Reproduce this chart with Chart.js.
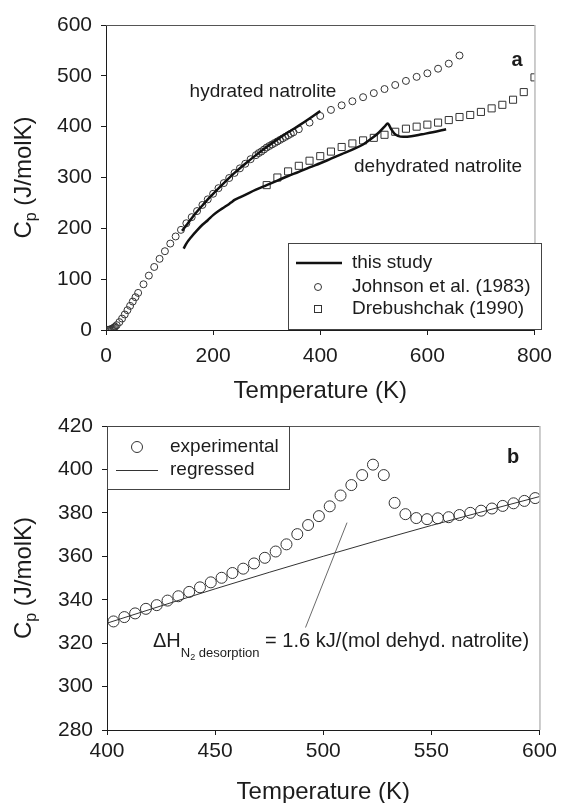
<!DOCTYPE html>
<html>
<head>
<meta charset="utf-8">
<script src="https://cdn.jsdelivr.net/npm/chart.js@4.4.0/dist/chart.umd.min.js"></script>
<style>
  html, body { margin: 0; padding: 0; background: #fff; }
  #wrap { position: relative; width: 561px; height: 803px; overflow: hidden; }
  canvas { position: absolute; left: 0; }
  #chart-a { top: 0; z-index: 1; }
  #chart-b { top: 400px; z-index: 2; }
</style>
</head>
<body>
<div id="wrap">
  <canvas id="chart-a" width="561" height="410"></canvas>
  <canvas id="chart-b" width="561" height="403"></canvas>
</div>
<script>
// ---- panel a data ----
const johnsonT = [3, 5, 7, 9, 11, 13, 15, 17, 20, 25, 30, 35, 40, 45, 50, 55, 60, 70, 80, 90, 100,
  110, 120, 130, 140, 150, 160, 170, 180, 190, 200, 210, 220, 230, 240, 250, 260, 270, 280,
  285, 290, 295, 300, 305, 310, 315, 320, 325, 330, 335, 340, 345, 350, 360, 380, 400,
  420, 440, 460, 480, 500, 520, 540, 560, 580, 600, 620, 640, 660];
const johnsonCp = [0.1, 0.3, 0.7, 1.3, 2.2, 3.3, 4.8, 6.5, 9.5, 15.5, 22.5, 30.5, 39, 47.5, 56, 64.5, 73, 90, 107, 124, 140,
  155, 170, 184, 197, 210, 222, 234, 246, 257, 268, 279, 289, 299, 309, 318, 327, 336, 344,
  348, 351, 355, 359, 362, 365, 368, 371, 374, 377, 380, 383, 386, 389, 395, 408, 421,
  433, 442, 450, 458, 466, 474, 482, 490, 498, 505, 514, 524, 540];

const drebT = [300, 320, 340, 360, 380, 400, 420, 440, 460, 480, 500, 520, 540, 560, 580, 600,
  620, 640, 660, 680, 700, 720, 740, 760, 780, 800];
const drebCp = [285, 300, 312, 323, 333, 342, 351, 360, 367, 373, 378, 384, 390, 396, 400, 404,
  408, 413, 419, 423, 429, 436, 443, 453, 468, 497];

const hydT = [142, 150, 160, 170, 180, 190, 200, 220, 240, 260, 280, 300, 320, 340, 360, 380, 400];
const hydCp = [195, 206, 220, 233, 245, 257, 268, 289, 309, 327, 344, 360, 375, 389, 402, 416, 431];

const dehT = [145, 150, 160, 170, 180, 190, 200, 210, 220, 230, 235, 240, 250, 260, 280, 300, 320,
  340, 360, 380, 400, 420, 440, 460, 480, 500, 510, 520, 526, 532, 538, 545, 555, 570, 590, 610, 635];
const dehCp = [160, 170, 184, 196, 207, 216, 226, 234, 241, 248, 252, 256, 261, 266, 276, 285, 294,
  303, 311, 320, 328, 337, 346, 355, 365, 380, 389, 400, 406, 396, 387, 382, 380, 381, 385, 389, 395];

// ---- panel b data ----
const expT = [403, 408, 413, 418, 423, 428, 433, 438, 443, 448, 453, 458, 463, 468, 473, 478,
  483, 488, 493, 498, 503, 508, 513, 518, 523, 528, 533, 538, 543, 548, 553, 558, 563, 568,
  573, 578, 583, 588, 593, 598];
const expCp = [330.0, 332.0, 333.7, 335.8, 337.5, 339.6, 341.6, 343.6, 345.7, 348.0, 350.1, 352.3,
  354.3, 356.7, 359.3, 362.2, 365.5, 370.2, 374.4, 378.5, 383.0, 388.0, 392.8, 397.4, 402.2,
  397.4, 384.6, 379.4, 377.6, 377.1, 377.5, 378.0, 379.0, 380.0, 381.0, 382.0, 383.2, 384.4,
  385.5, 386.8];

const regT = [400, 450, 500, 550, 600];
const regCp = [329.2, 345.0, 360.0, 374.2, 387.5];

const leaderT = [491.8, 511];
const leaderCp = [327.2, 375.5];

// ---- helpers ----
const FONT = "'Liberation Sans', Arial, Helvetica, sans-serif";
const INK = '#1c1c1c';

function pts(xs, ys) {
  return xs.map((x, i) => ({ x: x, y: ys[i] }));
}

function axis(min, max, step, size, pad) {
  return {
    type: 'linear', min: min, max: max,
    ticks: { stepSize: step, color: INK, font: { family: FONT, size: 21 }, padding: pad },
    grid: { drawOnChartArea: false, drawTicks: true, tickLength: 5, color: INK, lineWidth: 1 },
    border: { display: true, color: INK, width: 1 },
    afterFit: s => { if (s.isHorizontal()) s.height = size; else s.width = size; }
  };
}

function text(ctx, str, x, y, size, align, weight) {
  ctx.font = (weight || 'normal') + ' ' + size + 'px ' + FONT;
  ctx.textAlign = align;
  ctx.textBaseline = 'middle';
  ctx.fillStyle = INK;
  ctx.fillText(str, x, y);
}

function drawFrame(ctx, a) {
  ctx.lineWidth = 1;
  ctx.strokeStyle = '#555';
  ctx.beginPath(); ctx.moveTo(a.left, a.top + 0.5); ctx.lineTo(a.right, a.top + 0.5); ctx.stroke();
  ctx.strokeStyle = '#9a9a9a';
  ctx.beginPath(); ctx.moveTo(a.right + 0.5, a.top); ctx.lineTo(a.right + 0.5, a.bottom); ctx.stroke();
}

function drawYTitle(ctx, cx, cy) {
  const big = '24px ' + FONT, small = '16px ' + FONT;
  ctx.save();
  ctx.translate(cx, cy);
  ctx.rotate(-Math.PI / 2);
  ctx.fillStyle = INK;
  ctx.textAlign = 'left';
  ctx.textBaseline = 'alphabetic';
  ctx.font = big;
  const wC = ctx.measureText('C').width;
  const rest = ' (J/molK)';
  const wR = ctx.measureText(rest).width;
  ctx.font = small;
  const wP = ctx.measureText('p').width;
  let x = -(wC + wP + wR) / 2;
  ctx.font = big; ctx.fillText('C', x, 9); x += wC;
  ctx.font = small; ctx.fillText('p', x, 14); x += wP;
  ctx.font = big; ctx.fillText(rest, x, 9);
  ctx.restore();
}

// ---- panel a ----
const panelA = {
  id: 'panelA',
  afterDraw(chart) {
    const ctx = chart.ctx, a = chart.chartArea;
    ctx.save();
    drawFrame(ctx, a);
    drawYTitle(ctx, 22, (a.top + a.bottom) / 2);
    text(ctx, 'Temperature (K)', (a.left + a.right) / 2, 391, 24, 'center');
    text(ctx, 'hydrated natrolite', 263, 92, 19, 'center');
    text(ctx, 'dehydrated natrolite', 438, 167, 19, 'center');
    text(ctx, 'a', 517, 60, 20, 'center', 'bold');

    // legend
    ctx.lineWidth = 1;
    ctx.strokeStyle = '#444';
    ctx.fillStyle = '#fff';
    ctx.fillRect(288.5, 243.5, 253, 86);
    ctx.strokeRect(288.5, 243.5, 253, 86);
    ctx.strokeStyle = '#111';
    ctx.lineWidth = 2.5;
    ctx.beginPath(); ctx.moveTo(296, 263); ctx.lineTo(342, 263); ctx.stroke();
    ctx.lineWidth = 1;
    ctx.strokeStyle = '#333';
    ctx.beginPath(); ctx.arc(318, 287, 3.5, 0, Math.PI * 2); ctx.stroke();
    ctx.strokeRect(314.5, 305.5, 7, 7);
    text(ctx, 'this study', 352, 263, 19, 'left');
    text(ctx, 'Johnson et al. (1983)', 352, 287, 19, 'left');
    text(ctx, 'Drebushchak (1990)', 352, 309, 19, 'left');
    ctx.restore();
  }
};

new Chart(document.getElementById('chart-a'), {
  type: 'scatter',
  data: {
    datasets: [
      { label: 'hydrated (this study)', data: pts(hydT, hydCp), showLine: true, pointRadius: 0,
        borderColor: '#111', borderWidth: 2.5, cubicInterpolationMode: 'monotone' },
      { label: 'dehydrated (this study)', data: pts(dehT, dehCp), showLine: true, pointRadius: 0,
        borderColor: '#111', borderWidth: 2.5, cubicInterpolationMode: 'monotone' },
      { label: 'Johnson et al. (1983)', data: pts(johnsonT, johnsonCp), pointStyle: 'circle',
        pointRadius: 3.5, borderWidth: 1, borderColor: '#333', backgroundColor: 'rgba(0,0,0,0)' },
      { label: 'Drebushchak (1990)', data: pts(drebT, drebCp), pointStyle: 'rect',
        pointRadius: 5, borderWidth: 1, borderColor: '#333', backgroundColor: 'rgba(0,0,0,0)' }
    ]
  },
  options: {
    responsive: false,
    animation: false,
    layout: { padding: { top: 25, right: 19, left: 0, bottom: 0 } },
    plugins: { legend: { display: false }, tooltip: { enabled: false } },
    scales: {
      x: axis(0, 800, 200, 80, 9),
      y: axis(0, 600, 100, 106, 9)
    }
  },
  plugins: [panelA]
});

// ---- panel b ----
const panelB = {
  id: 'panelB',
  afterDraw(chart) {
    const ctx = chart.ctx, a = chart.chartArea;
    ctx.save();
    drawFrame(ctx, a);
    drawYTitle(ctx, 22, (a.top + a.bottom) / 2);
    text(ctx, 'Temperature (K)', (a.left + a.right) / 2, 392, 24, 'center');
    text(ctx, 'b', 513, 57, 20, 'center', 'bold');

    // legend
    ctx.lineWidth = 1;
    ctx.strokeStyle = '#444';
    ctx.strokeRect(107.5, 26.5, 182, 63);
    ctx.strokeStyle = '#333';
    ctx.beginPath(); ctx.arc(137, 47, 5.5, 0, Math.PI * 2); ctx.stroke();
    ctx.beginPath(); ctx.moveTo(116, 70.5); ctx.lineTo(158, 70.5); ctx.stroke();
    text(ctx, 'experimental', 170, 47, 19, 'left');
    text(ctx, 'regressed', 170, 70, 19, 'left');

    // annotation with subscripts
    const y = 240;
    let x = 153;
    ctx.fillStyle = INK;
    ctx.textAlign = 'left';
    ctx.textBaseline = 'alphabetic';
    ctx.font = '20px ' + FONT;
    ctx.fillText('\u0394H', x, y + 7); x += ctx.measureText('\u0394H').width;
    ctx.font = '13px ' + FONT;
    ctx.fillText('N', x, y + 17); x += ctx.measureText('N').width;
    ctx.font = '9px ' + FONT;
    ctx.fillText('2', x, y + 20); x += ctx.measureText('2').width;
    ctx.font = '13px ' + FONT;
    ctx.fillText(' desorption', x, y + 17); x += ctx.measureText(' desorption').width;
    ctx.font = '20px ' + FONT;
    ctx.fillText(' = 1.6 kJ/(mol dehyd. natrolite)', x, y + 7);
    ctx.restore();
  }
};

new Chart(document.getElementById('chart-b'), {
  type: 'scatter',
  data: {
    datasets: [
      { label: 'experimental', data: pts(expT, expCp), pointStyle: 'circle', pointRadius: 5.5,
        borderWidth: 1, borderColor: '#333', backgroundColor: 'rgba(0,0,0,0)' },
      { label: 'regressed', data: pts(regT, regCp), showLine: true, pointRadius: 0,
        borderColor: '#333', borderWidth: 1, cubicInterpolationMode: 'monotone' },
      { label: 'leader', data: pts(leaderT, leaderCp), showLine: true, pointRadius: 0,
        borderColor: '#444', borderWidth: 0.8 }
    ]
  },
  options: {
    responsive: false,
    animation: false,
    layout: { padding: { top: 26, right: 19, left: 0, bottom: 0 } },
    plugins: { legend: { display: false }, tooltip: { enabled: false } },
    scales: {
      x: axis(400, 600, 50, 73, 4),
      y: axis(280, 420, 20, 107, 9)
    }
  },
  plugins: [panelB]
});
</script>
</body>
</html>
